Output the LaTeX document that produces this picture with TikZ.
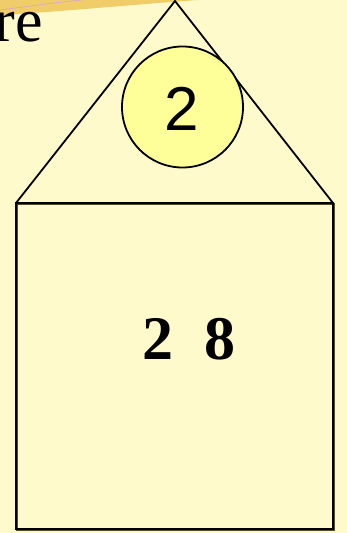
\documentclass[tikz,border=0pt]{standalone}
\usepackage{fontspec}
\setmainfont{Liberation Serif}
\newfontfamily\digitsans{Liberation Sans}
\usetikzlibrary{positioning}

\definecolor{paper}{HTML}{FFFACC}
\definecolor{ballfill}{HTML}{FFFF99}
\definecolor{swoosh}{HTML}{F0CD68}

\begin{document}
\begin{tikzpicture}[
		x=1pt,
		y=-1pt,
		every node/.style={font=\fontsize{62}{62}\selectfont, inner sep=0pt}
		]
		
		\def\RoofTop{175}
		\def\WallLeft{16}
		\def\WallRight{333}
		\def\WallTop{203}
		\def\WallBottom{529}
		
		% background of the slide
		\fill[paper] (0,0) rectangle (347,533);
		\useasboundingbox (0,0) rectangle (347,533);
		
		% golden swoosh at the top edge
		\fill[swoosh] (0,0) -- (0,15) .. controls (70,11) and (140,4) .. (198,0) -- cycle;
		\draw[violet!35, line width=0.6pt] (0,10) .. controls (30,6) and (60,2) .. (82,0);
		
		% cut off word at the left
		\node[anchor=base east] (word) at (43,41) {re};
		
		% roof of the house
		\draw[line width=1.8pt, line join=miter]
		(\WallLeft,\WallTop) -- (\RoofTop,1) -- (\WallRight,\WallTop);
		
		% walls of the house, with a thin shadow
		\draw[black!55!olive, line width=2.8pt]
		(\WallLeft+1,\WallTop+1) rectangle (\WallRight+1,\WallBottom+1);
		\draw[line width=2.8pt]
		(\WallLeft,\WallTop) rectangle (\WallRight,\WallBottom);
		
		% first shell in the roof
		\node[circle, draw, line width=1.8pt, fill=ballfill, minimum size=121pt]
		(shell) at (182.5,107) {};
		\node[font=\digitsans\fontsize{62}{62}\selectfont] (inner) at (182,109) {2};
		
		% electrons in the walls
		\node[font=\bfseries\fontsize{62}{62}\selectfont] (outer) at (189,339) {2\hspace{32pt}8};
		
	\end{tikzpicture}
\end{document}
